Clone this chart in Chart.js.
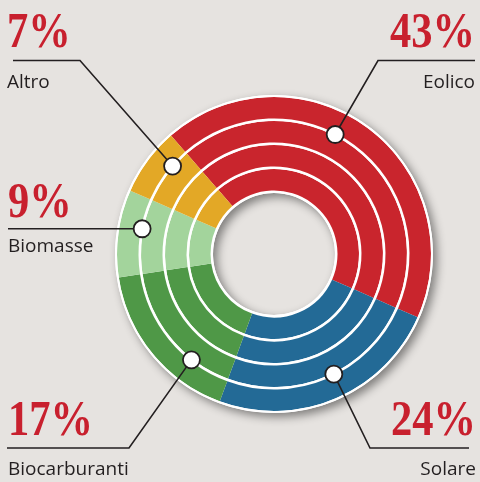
<!DOCTYPE html>
<html>
<head>
<meta charset="utf-8">
<script src="https://cdn.jsdelivr.net/npm/chart.js@4.4.1/dist/chart.umd.min.js"></script>
<style>
  html, body { margin: 0; padding: 0; background: #e6e3e0; }
  canvas { display: block; }
</style>
</head>
<body>
<canvas id="energia" width="480" height="482"></canvas>
<script>
// dati
const categorie = ['Eolico', 'Solare', 'Biocarburanti', 'Biomasse', 'Altro'];
const percentuali = [43, 24, 17, 9, 7];
const etichettePct = ['43%', '24%', '17%', '9%', '7%'];
const colori = ['#c9252d', '#236a96', '#4f9847', '#a3d49c', '#e3a826'];

// posizione dei richiami (punto sull'arco come frazione del settore, gomito, testo)
const richiami = [
  { frac: 0.44, gomito: [378, 60.5], fine: 475, lato: 'right', xTesto: 475, yPct: 47, yNome: 88 },
  { frac: 0.46, gomito: [370, 448], fine: 469, lato: 'right', xTesto: 476, yPct: 435, yNome: 475 },
  { frac: 0.29, gomito: [129, 448], fine: 7, lato: 'left', xTesto: 8, yPct: 435, yNome: 475 },
  { frac: 0.60, gomito: null, fine: 8, lato: 'left', xTesto: 8, yPct: 217, yNome: 252 },
  { frac: 0.68, gomito: [80, 60.5], fine: 13, lato: 'left', xTesto: 7, yPct: 47, yNome: 88 }
];

// anello colorato e filetto bianco
function anello(peso) {
  return { data: percentuali, backgroundColor: colori, borderWidth: 0, weight: peso };
}
function filetto(peso) {
  return { data: [1], backgroundColor: ['#ffffff'], borderWidth: 0, weight: peso };
}

// ombra sotto la ciambella
const ombra = {
  id: 'ombra',
  beforeDatasetsDraw(chart) {
    const esterno = chart.getDatasetMeta(0).data[0];
    const interno = chart.getDatasetMeta(8).data[0];
    const ctx = chart.ctx;
    ctx.save();
    ctx.beginPath();
    ctx.arc(esterno.x, esterno.y, esterno.outerRadius, 0, Math.PI * 2);
    ctx.arc(esterno.x, esterno.y, interno.innerRadius, 0, Math.PI * 2, true);
    ctx.shadowColor = 'rgba(0, 0, 0, 0.45)';
    ctx.shadowBlur = 10;
    ctx.shadowOffsetX = 4;
    ctx.shadowOffsetY = 4;
    ctx.fillStyle = '#ffffff';
    ctx.fill();
    ctx.restore();
  }
};

// linee, pallini e testi
const etichette = {
  id: 'etichette',
  afterDatasetsDraw(chart) {
    const ctx = chart.ctx;
    const settori = chart.getDatasetMeta(1).data;
    const sep = chart.getDatasetMeta(2).data[0];
    const r = (sep.innerRadius + sep.outerRadius) / 2;

    const punti = settori.map(function(el, i) {
      const a = el.startAngle + (el.endAngle - el.startAngle) * richiami[i].frac;
      return [el.x + Math.cos(a) * r, el.y + Math.sin(a) * r];
    });

    ctx.save();
    ctx.strokeStyle = '#231f20';
    ctx.lineWidth = 1.6;
    richiami.forEach(function(c, i) {
      const p = punti[i];
      ctx.beginPath();
      if (c.gomito) {
        ctx.moveTo(c.fine, c.gomito[1]);
        ctx.lineTo(c.gomito[0], c.gomito[1]);
      } else {
        ctx.moveTo(c.fine, p[1]);
      }
      ctx.lineTo(p[0], p[1]);
      ctx.stroke();
    });

    punti.forEach(function(p) {
      ctx.beginPath();
      ctx.arc(p[0], p[1], 8.5, 0, Math.PI * 2);
      ctx.fillStyle = '#ffffff';
      ctx.fill();
      ctx.lineWidth = 1.8;
      ctx.stroke();
    });

    richiami.forEach(function(c, i) {
      ctx.textAlign = c.lato;
      ctx.textBaseline = 'alphabetic';

      ctx.save();
      ctx.translate(c.xTesto, c.yPct);
      ctx.scale(0.85, 1);
      ctx.font = 'bold 50px "Liberation Serif"';
      ctx.fillStyle = '#c8202e';
      ctx.fillText(etichettePct[i], 0, 0);
      ctx.restore();

      ctx.font = '19px "Open Sans"';
      ctx.fillStyle = '#231f20';
      ctx.fillText(categorie[i], c.xTesto, c.yNome);
    });
    ctx.restore();
  }
};

new Chart(document.getElementById('energia'), {
  type: 'doughnut',
  data: {
    labels: categorie,
    datasets: [
      filetto(2), anello(21.5), filetto(2.5), anello(21.5), filetto(2.5),
      anello(21.5), filetto(2.5), anello(21.5), filetto(2.5)
    ]
  },
  options: {
    responsive: false,
    animation: false,
    events: [],
    rotation: -41,
    cutout: 61,
    layout: { padding: { left: 115, right: 47, top: 95, bottom: 69 } },
    plugins: {
      legend: { display: false },
      tooltip: { enabled: false }
    }
  },
  plugins: [ombra, etichette]
});
</script>
</body>
</html>
